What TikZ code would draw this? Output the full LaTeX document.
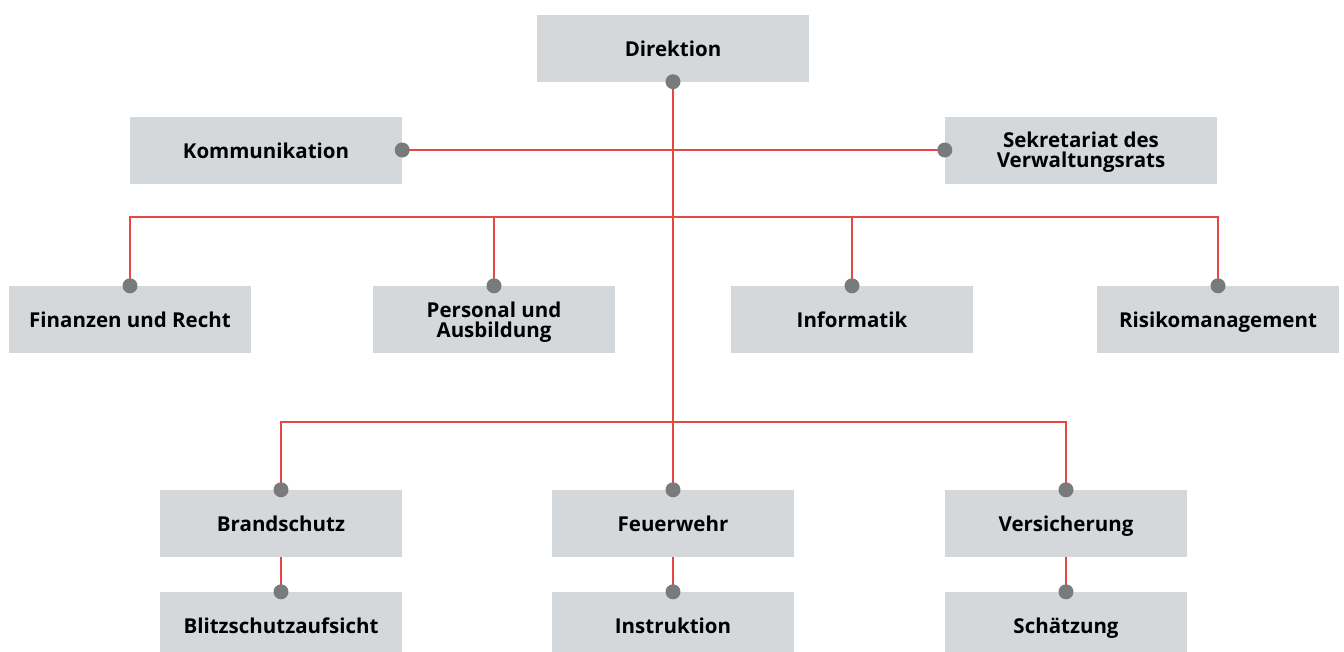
\documentclass[tikz,border=0pt]{standalone}
\usepackage{fontspec}
\setmainfont{Open Sans}
\usepackage{tikz}

\definecolor{boxgray}{RGB}{213,216,218}
\definecolor{dotgray}{RGB}{120,122,123}
\definecolor{linered}{RGB}{229,72,66}

\tikzset{
  orgbox/.style={fill=boxgray, draw=none, align=center, inner sep=0pt,
    minimum height=67pt, text height=16pt, text depth=0pt,
    font=\fontsize{20.5}{20}\selectfont\bfseries},
  wide/.style={orgbox, minimum width=272pt},
  narrow/.style={orgbox, minimum width=242pt},
  twoline/.style={text height=35pt, text depth=0pt},
  link/.style={draw=linered, line width=1.1pt},
  dot/.style={fill=dotgray}
}

\begin{document}
\begin{tikzpicture}[x=1pt, y=-1pt]
    \useasboundingbox (0,0) rectangle (1344,651);

    % draw nodes
    \node[wide] (dir) at (673,48) {Direktion};
    \node[wide] (komm) at (266,150) {Kommunikation};
    \node[wide, twoline] (sekr) at (1081,150) {Sekretariat des\\Verwaltungsrats};

    \node[narrow] (fin) at (130,319.5) {Finanzen und Recht};
    \node[narrow, twoline] (pers) at (494,319.5) {Personal und\\Ausbildung};
    \node[narrow] (info) at (852,319.5) {Informatik};
    \node[narrow] (risk) at (1218,319.5) {Risikomanagement};

    \node[narrow] (brand) at (281,523.5) {Brandschutz};
    \node[narrow] (feuer) at (673,523.5) {Feuerwehr};
    \node[narrow] (vers) at (1066,523.5) {Versicherung};

    \node[narrow] (blitz) at (281,625.5) {Blitzschutzaufsicht};
    \node[narrow] (instr) at (673,625.5) {Instruktion};
    \node[narrow] (schae) at (1066,625.5) {Schätzung};

    % bus lines
    \coordinate (bus1) at (673,217);
    \coordinate (bus2) at (673,422);

    % draw connectors
    \draw[link] (dir.south) -- (feuer.north);
    \draw[link] (komm.east) -- (sekr.west);
    \draw[link] (fin.north) -- (fin.north |- bus1) -- (risk.north |- bus1) -- (risk.north);
    \foreach \n in {pers,info}
      \draw[link] (\n.north) -- (\n.north |- bus1);
    \draw[link] (brand.north) -- (brand.north |- bus2) -- (vers.north |- bus2) -- (vers.north);
    \draw[link] (brand.south) -- (blitz.north);
    \draw[link] (feuer.south) -- (instr.north);
    \draw[link] (vers.south) -- (schae.north);

    % draw dots
    \foreach \p in {dir.south,komm.east,sekr.west,fin.north,pers.north,info.north,risk.north,
                    brand.north,feuer.north,vers.north,blitz.north,instr.north,schae.north}
      \fill[dot] (\p) circle (7.5pt);

\end{tikzpicture}
\end{document}
